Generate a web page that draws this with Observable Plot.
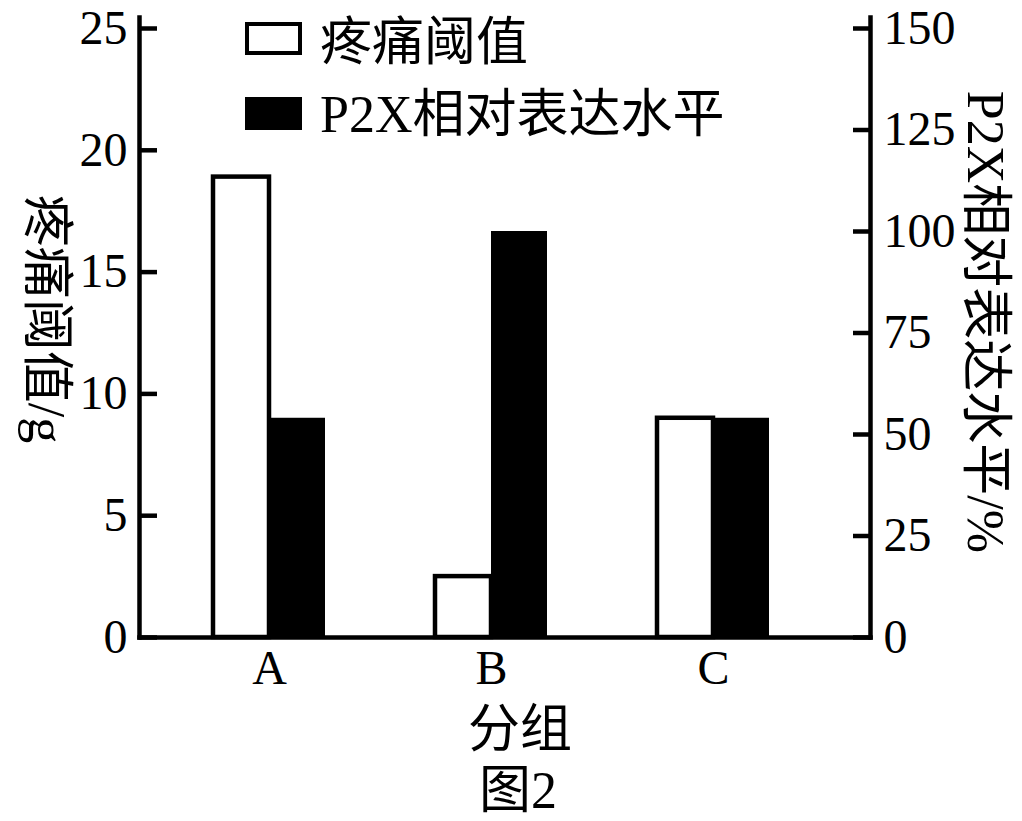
<!DOCTYPE html>
<html>
<head>
<meta charset="utf-8">
<script src="https://cdn.jsdelivr.net/npm/d3@7"></script>
<script src="https://cdn.jsdelivr.net/npm/@observablehq/plot@0.6"></script>
<style>
  html, body { margin: 0; padding: 0; background: #fff; }
  #wrap { position: relative; width: 1022px; height: 821px; background: #fff; color: #000;
          font-family: "Liberation Serif", "Noto Sans CJK SC", serif; }
  .lbl { position: absolute; white-space: nowrap; line-height: 1; font-size: 52px; }
  .lat { font-family: "Liberation Serif", serif; }
  .cjk { font-family: "Noto Sans CJK SC", sans-serif; }
  .c { transform: translate(-50%, -50%); }
  .l { transform: translate(0, -50%); }
  .rot { transform: translate(-50%, -50%) rotate(90deg); }
  .sw { position: absolute; box-sizing: border-box; }
</style>
</head>
<body>
<div id="wrap">
  <div id="chart"></div>
</div>
<script>
// ---- data ----
const groups = ["A", "B", "C"];
const painThreshold = [18.9, 2.5, 9];      // g (left axis)
const p2xLevel = [54, 100, 54];            // % (right axis)
const seriesNames = ["疼痛阈值", "P2X相对表达水平"];
const leftTicks = [0, 5, 10, 15, 20, 25];
const rightTicks = [0, 25, 50, 75, 100, 125, 150];
const leftMax = 25, rightMax = 150;
const yTitleLeft = "疼痛阈值/g";
const yTitleRight = "P2X相对表达水平/%";
const xTitle = "分组";
const caption = "图2";

const ratio = rightMax / leftMax;
const table = groups.flatMap((g, i) => [
  {group: g, series: seriesNames[0], value: painThreshold[i], yv: painThreshold[i]},
  {group: g, series: seriesNames[1], value: p2xLevel[i], yv: p2xLevel[i] / ratio}
]);

const half = 56;
const sw = 4.5;
const fontFam = "'Liberation Serif', 'Noto Sans CJK SC', serif";

const chart = Plot.plot({
  width: 1022,
  height: 700,
  marginLeft: 139,
  marginRight: 152,
  marginTop: 28,
  marginBottom: 63,
  style: {fontFamily: fontFam, fontSize: "48px", background: "#fff", color: "#000"},
  x: {type: "band", domain: groups, range: [139, 842], paddingInner: 0.4966, paddingOuter: 0.328},
  y: {domain: [0, leftMax]},
  marks: [
    Plot.barY(table.filter(d => d.series === seriesNames[0]), {
      x: "group", y: "yv", fill: "#fff", stroke: "#000", strokeWidth: sw, insetRight: half
    }),
    Plot.barY(table.filter(d => d.series === seriesNames[1]), {
      x: "group", y: "yv", fill: "#000", insetLeft: half
    }),
    Plot.frame({anchor: "left", strokeWidth: sw, insetTop: -11, strokeLinecap: "square"}),
    Plot.frame({anchor: "right", strokeWidth: sw, insetTop: -11, strokeLinecap: "square"}),
    Plot.frame({anchor: "bottom", strokeWidth: sw, strokeLinecap: "square"}),
    // left ticks (inward)
    Plot.axisY(leftTicks, {anchor: "left", tickSize: 18, dx: 18, strokeWidth: sw, tickFormat: () => "", label: null}),
    Plot.axisY(leftTicks, {anchor: "left", tickSize: 0, tickPadding: 12, fontSize: 48, label: null}),
    // right ticks (inward)
    Plot.axisY(rightTicks.map(v => v / ratio), {anchor: "right", tickSize: 18, dx: -18, strokeWidth: sw, tickFormat: () => "", label: null}),
    Plot.axisY(rightTicks.map(v => v / ratio), {anchor: "right", tickSize: 0, tickPadding: 13, fontSize: 48, label: null,
      tickFormat: d => String(Math.round(d * ratio))}),
    Plot.axisX({anchor: "bottom", tickSize: 0, tickPadding: 12, fontSize: 48, label: null})
  ]
});
document.getElementById("chart").appendChild(chart);

const wrap = document.getElementById("wrap");
function addLabel(text, cls, x, y) {
  const d = document.createElement("div");
  d.className = "lbl " + cls;
  d.style.left = x + "px";
  d.style.top = y + "px";
  // split into CJK and Latin runs so Latin glyphs stay serif
  const runs = text.match(/[\u3000-\u9fff\uff00-\uffef]+|[^\u3000-\u9fff\uff00-\uffef]+/g) || [];
  for (const r of runs) {
    const s = document.createElement("span");
    s.className = /[\u3000-\u9fff\uff00-\uffef]/.test(r) ? "cjk" : "lat";
    s.textContent = r;
    d.appendChild(s);
  }
  wrap.appendChild(d);
}
function addSwatch(x, y, w, h, filled) {
  const d = document.createElement("div");
  d.className = "sw";
  d.style.left = x + "px"; d.style.top = y + "px";
  d.style.width = w + "px"; d.style.height = h + "px";
  d.style.border = "4.5px solid #000";
  d.style.background = filled ? "#000" : "#fff";
  wrap.appendChild(d);
}
// legend
addSwatch(245, 22, 57, 33, false);
addSwatch(245, 97, 57, 33, true);
addLabel(seriesNames[0], "l", 320, 40);
addLabel(seriesNames[1], "l", 320, 112);
// axis titles
addLabel(yTitleLeft, "rot", 48, 319);
addLabel(yTitleRight, "rot", 987, 322);
addLabel(xTitle, "c", 520, 727);
addLabel(caption, "c", 518, 788);
</script>
</body>
</html>
